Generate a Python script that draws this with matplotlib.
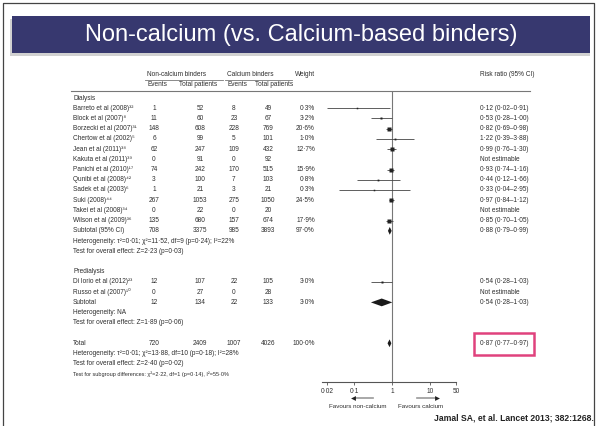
import matplotlib.pyplot as plt
from matplotlib.patches import Rectangle

plt.rcParams['font.family'] = ['Liberation Sans', 'DejaVu Sans']

W, H = 597, 426

# ---- data ----
dial_names = ["Barreto et al (2008)", "Block et al (2007)", "Borzecki et al (2007)",
              "Chertow et al (2002)", "Jean et al (2011)", "Kakuta et al (2011)",
              "Panichi et al (2010)", "Qunibi et al (2008)", "Sadek et al (2003)",
              "Suki (2008)", "Takei et al (2008)", "Wilson et al (2009)"]
dial_refs = ["32", "8", "31", "5", "38", "39", "17", "42", "6", "44", "34", "36"]
dial_nc_ev = [1, 11, 148, 6, 62, 0, 74, 3, 1, 267, 0, 135]
dial_nc_n = [52, 60, 608, 99, 247, 91, 242, 100, 21, 1053, 22, 680]
dial_c_ev = [8, 23, 228, 5, 109, 0, 170, 7, 3, 275, 0, 157]
dial_c_n = [49, 67, 769, 101, 432, 92, 515, 103, 21, 1050, 20, 674]
dial_weight = [0.3, 3.2, 20.6, 1.0, 12.7, None, 15.9, 0.8, 0.3, 24.5, None, 17.9]
dial_rr = [0.12, 0.53, 0.82, 1.22, 0.99, None, 0.93, 0.44, 0.33, 0.97, None, 0.85]
dial_lo = [0.02, 0.28, 0.69, 0.39, 0.76, None, 0.74, 0.12, 0.04, 0.84, None, 0.70]
dial_hi = [0.91, 1.00, 0.98, 3.88, 1.30, None, 1.16, 1.66, 2.95, 1.12, None, 1.05]
dial_sub_counts = [708, 3375, 985, 3893]
dial_sub_weight = 97.0
dial_sub_rr = [0.88, 0.79, 0.99]

pre_names = ["Di Iorio et al (2012)", "Russo et al (2007)"]
pre_refs = ["23", "10"]
pre_nc_ev = [12, 0]
pre_nc_n = [107, 27]
pre_c_ev = [22, 0]
pre_c_n = [105, 28]
pre_weight = [3.0, None]
pre_rr = [0.54, None]
pre_lo = [0.28, None]
pre_hi = [1.03, None]
pre_sub_counts = [12, 134, 22, 133]
pre_sub_weight = 3.0
pre_sub_rr = [0.54, 0.28, 1.03]

total_counts = [720, 2409, 1007, 4026]
total_weight = 100.0
total_rr = [0.87, 0.77, 0.97]

dial_notes = ["Heterogeneity: τ²=0·01; χ²=11·52, df=9 (p=0·24); I²=22%",
              "Test for overall effect: Z=2·23 (p=0·03)"]
pre_notes = ["Heterogeneity: NA", "Test for overall effect: Z=1·89 (p=0·06)"]
total_notes = ["Heterogeneity: τ²=0·01; χ²=13·88, df=10 (p=0·18); I²=28%",
               "Test for overall effect: Z=2·40 (p=0·02)"]
subgroup_note = "Test for subgroup differences: χ²=2·22, df=1 (p=0·14), I²=55·0%"

tick_vals = [0.02, 0.1, 1, 10, 50]
tick_labels = ["0·02", "0·1", "1", "10", "50"]

title = "Non-calcium (vs. Calcium-based binders)"
citation = "Jamal SA, et al. Lancet 2013; 382:1268."

SUP = str.maketrans("0123456789", "⁰¹²³⁴⁵⁶⁷⁸⁹")


def d(v):
    return f"{v:.2f}".replace(".", "·")


def rr_str(r, lo, hi):
    if r is None:
        return "Not estimable"
    return f"{d(r)} ({d(lo)}–{d(hi)})"


def w_str(w):
    return "" if w is None else f"{w:.1f}%".replace(".", "·")


# row layout (pixel y = Y0 + DY * row)
Y0, DY = 98.0, 10.22


def ypix(row):
    return Y0 + DY * row


def rowof(py):
    return (py - Y0) / DY


fig = plt.figure(figsize=(W / 100, H / 100), dpi=100)
tab = fig.add_axes([0, 0, 1, 1])
tab.set_xlim(0, W)
tab.set_ylim(H, 0)
tab.axis('off')

txt_c = '#2e2e2e'
fs = 4.7

# border + banner
tab.plot([3, 3, 594, 594], [H, 3, 3, H], color='#444444', lw=0.9)
tab.add_patch(Rectangle((10, 19), 580, 37, color='#999999', alpha=0.45, lw=0))
tab.add_patch(Rectangle((12, 16), 578, 37, color='#37386f', lw=0))
tab.text(301, 35, title, color='white', fontsize=17, ha='center', va='center')

# headers
X_LAB, X_NCE, X_NCN, X_CE, X_CN, X_W, X_RR = 73, 154, 200, 234, 268, 315, 480
tab.text(147, 74, "Non-calcium binders", fontsize=fs, color=txt_c, va='center')
tab.text(227, 74, "Calcium binders", fontsize=fs, color=txt_c, va='center')
tab.text(X_W, 74, "Weight", fontsize=fs, color=txt_c, va='center', ha='right')
tab.text(X_RR, 74, "Risk ratio (95% CI)", fontsize=fs, color=txt_c, va='center')
for x, s in [(147, "Events"), (179, "Total patients"), (227, "Events"), (255, "Total patients")]:
    tab.text(x, 85, s, fontsize=fs, color=txt_c, va='center')
tab.plot([145, 223], [80, 80], color='#777777', lw=0.6)
tab.plot([225, 292], [80, 80], color='#777777', lw=0.6)
tab.plot([71, 530], [90.7, 90.7], color='#777777', lw=0.8)


def put_row(row, label, counts, w, r, lo, hi, ref=None):
    y = ypix(row)
    s = label + (ref.translate(SUP) if ref else "")
    tab.text(X_LAB, y, s, fontsize=fs, color=txt_c, va='center')
    for x, v in zip([X_NCE, X_NCN, X_CE, X_CN], counts):
        tab.text(x, y, str(v), fontsize=fs, color=txt_c, va='center', ha='center')
    tab.text(X_W, y, w_str(w), fontsize=fs, color=txt_c, va='center', ha='right')
    tab.text(X_RR, y, rr_str(r, lo, hi), fontsize=fs, color=txt_c, va='center')


def note(row, s, size=fs):
    tab.text(X_LAB, ypix(row), s, fontsize=size, color=txt_c, va='center')


# forest axes (log scale)
fp = fig.add_axes([322.2 / W, 0, 134 / W, 1])
fp.set_xscale('log')
fp.set_xlim(0.0145, 50)
fp.set_ylim(rowof(H), rowof(0))
fp.patch.set_alpha(0)
for sp in ['top', 'left', 'right']:
    fp.spines[sp].set_visible(False)
axis_row = rowof(382)
fp.spines['bottom'].set_position(('data', axis_row))
fp.spines['bottom'].set_color('#555555')
fp.spines['bottom'].set_linewidth(0.8)
fp.set_yticks([])
fp.set_xticks(tick_vals)
fp.set_xticklabels(tick_labels)
fp.minorticks_off()
fp.tick_params(axis='x', length=2.5, width=0.6, color='#555555', labelsize=fs,
               labelcolor=txt_c, pad=1.5)
fp.vlines(1, rowof(90.7), axis_row, color='#777777', lw=0.8)


def study_mark(row, w, r, lo, hi):
    if r is None:
        return
    fp.hlines(row, lo, hi, color='#444444', lw=0.6)
    ms = (1.2 + 0.62 * w ** 0.5) * 0.72
    fp.plot(r, row, 's', ms=ms, color='#222222', mec='none')


def diamond(row, r, lo, hi):
    fp.fill([lo, r, hi, r], [row, row - 0.38, row, row + 0.38], color='#1a1a1a', lw=0)


# Dialysis block
note(0, "Dialysis")
row = 1
for i in range(len(dial_names)):
    put_row(row, dial_names[i], [dial_nc_ev[i], dial_nc_n[i], dial_c_ev[i], dial_c_n[i]],
            dial_weight[i], dial_rr[i], dial_lo[i], dial_hi[i], dial_refs[i])
    study_mark(row, dial_weight[i], dial_rr[i], dial_lo[i], dial_hi[i])
    row += 1
put_row(row, "Subtotal (95% CI)", dial_sub_counts, dial_sub_weight, *dial_sub_rr)
diamond(row, *dial_sub_rr)
row += 1
for s in dial_notes:
    note(row, s)
    row += 1
row += 1

# Predialysis block
note(row, "Predialysis")
row += 1
for i in range(len(pre_names)):
    put_row(row, pre_names[i], [pre_nc_ev[i], pre_nc_n[i], pre_c_ev[i], pre_c_n[i]],
            pre_weight[i], pre_rr[i], pre_lo[i], pre_hi[i], pre_refs[i])
    study_mark(row, pre_weight[i], pre_rr[i], pre_lo[i], pre_hi[i])
    row += 1
put_row(row, "Subtotal", pre_sub_counts, pre_sub_weight, *pre_sub_rr)
diamond(row, *pre_sub_rr)
row += 1
for s in pre_notes:
    note(row, s)
    row += 1
row += 1

# Overall
total_row = row
put_row(row, "Total", total_counts, total_weight, *total_rr)
diamond(row, *total_rr)
row += 1
for s in total_notes:
    note(row, s)
    row += 1
note(row, subgroup_note, size=4.0)

# highlight box around the overall estimate
tab.add_patch(Rectangle((474, ypix(total_row) - 10.5), 60, 22, fill=False,
                        ec='#e0427d', lw=1.8))

# favours arrows
ay = 398
tab.plot([355, 373], [ay, ay], color='#999999', lw=1.2)
tab.plot(353, ay, marker='<', ms=3.5, color='#222222', mec='none')
tab.plot([417, 435], [ay, ay], color='#999999', lw=1.2)
tab.plot(437, ay, marker='>', ms=3.5, color='#222222', mec='none')
tab.text(358, 407, "Favours non-calcium", fontsize=fs - 0.2, color=txt_c, ha='center', va='center')
tab.text(421, 407, "Favours calcium", fontsize=fs - 0.2, color=txt_c, ha='center', va='center')

tab.text(594, 418, citation, fontsize=6.2, fontweight='bold', color='#222222',
         ha='right', va='center')

fig.savefig('out.png', dpi=100)
